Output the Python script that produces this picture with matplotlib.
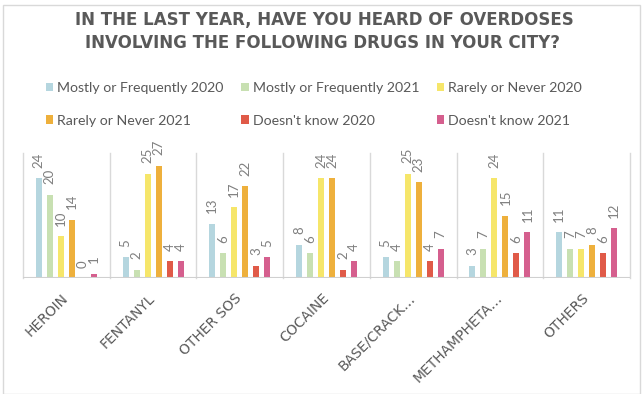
import matplotlib
matplotlib.use("Agg")
import matplotlib.pyplot as plt
import numpy as np
from matplotlib.patches import Rectangle

categories = ["HEROIN", "FENTANYL", "OTHER SOS", "COCAINE", "BASE/CRACK…", "METHAMPHETA…", "OTHERS"]
series_names = ["Mostly or Frequently 2020", "Mostly or Frequently 2021",
                "Rarely or Never 2020", "Rarely or Never 2021",
                "Doesn't know 2020", "Doesn't know 2021"]
mf2020 = [24, 5, 13, 8, 5, 3, 11]
mf2021 = [20, 2, 6, 6, 4, 7, 7]
rn2020 = [10, 25, 17, 24, 25, 24, 7]
rn2021 = [14, 27, 22, 24, 23, 15, 8]
dk2020 = [0, 4, 3, 2, 4, 6, 6]
dk2021 = [1, 4, 5, 4, 7, 11, 12]
series = [mf2020, mf2021, rn2020, rn2021, dk2020, dk2021]
colors = ["#b5d6df", "#c8e0b2", "#f6e66a", "#eeb03c", "#e05a48", "#d55f8e"]

plt.rcParams['font.family'] = ['Lato', 'DejaVu Sans']
gray = "#595959"

fig = plt.figure(figsize=(6.43, 3.94), dpi=100)
ax = fig.add_axes([23/643, 1-278/394, (630-23)/643, (278-153)/394])

x = np.arange(len(categories))
step = 0.127
width = 0.069
handles = []
for i, (vals, c, name) in enumerate(zip(series, colors, series_names)):
    pos = x + (i - 2.5) * step
    b = ax.bar(pos, vals, width=width, color=c, label=name, zorder=3)
    handles.append(b)
    for p, v in zip(pos, vals):
        ax.annotate(str(v), (p, v), xytext=(0, 7.5), textcoords='offset points',
                    rotation=90, ha='center', va='bottom', fontsize=9.5, color="#7f7f7f")

ax.set_xlim(-0.5, len(categories) - 0.5)
ax.set_ylim(0, 30)
for b in np.arange(-0.5, len(categories), 1.0):
    ax.plot([b, b], [0, 30], color="#d9d9d9", lw=1, zorder=1, clip_on=False)
for s in ax.spines.values():
    s.set_visible(False)
ax.axhline(0, color="#d0d0d0", lw=1.5, zorder=4)
ax.set_yticks([])
ax.set_xticks(x)
ax.set_xticklabels(categories, rotation=45, ha='right', va='center',
                   rotation_mode='anchor', fontsize=10, color=gray,
                   family=['DejaVu Sans'])
ax.tick_params(axis='x', length=0, pad=13)

fig.text(324/643, 1-20/394, "IN THE LAST YEAR, HAVE YOU HEARD OF OVERDOSES",
         ha='center', va='center', fontsize=12, fontweight='bold', color=gray,
         family=['DejaVu Sans'])
fig.text(322/643, 1-43/394, "INVOLVING THE FOLLOWING DRUGS IN YOUR CITY?",
         ha='center', va='center', fontsize=12, fontweight='bold', color=gray,
         family=['DejaVu Sans'])

order = [0, 3, 1, 4, 2, 5]
leg = fig.legend([handles[i] for i in order], [series_names[i] for i in order],
                 loc='upper left', bbox_to_anchor=(46/643, 1-82/394), ncol=3,
                 frameon=False, fontsize=10.2, handlelength=0.5, handleheight=0.5,
                 handletextpad=0.3, columnspacing=1.25, labelspacing=1.45,
                 borderaxespad=0, borderpad=0)
for t in leg.get_texts():
    t.set_color(gray)

fig.patches.append(Rectangle((3/643, 0), 637/643, 1-5/394, transform=fig.transFigure,
                             fill=False, edgecolor="#d9d9d9", lw=1))

fig.savefig("out.png", dpi=100, facecolor='white')
